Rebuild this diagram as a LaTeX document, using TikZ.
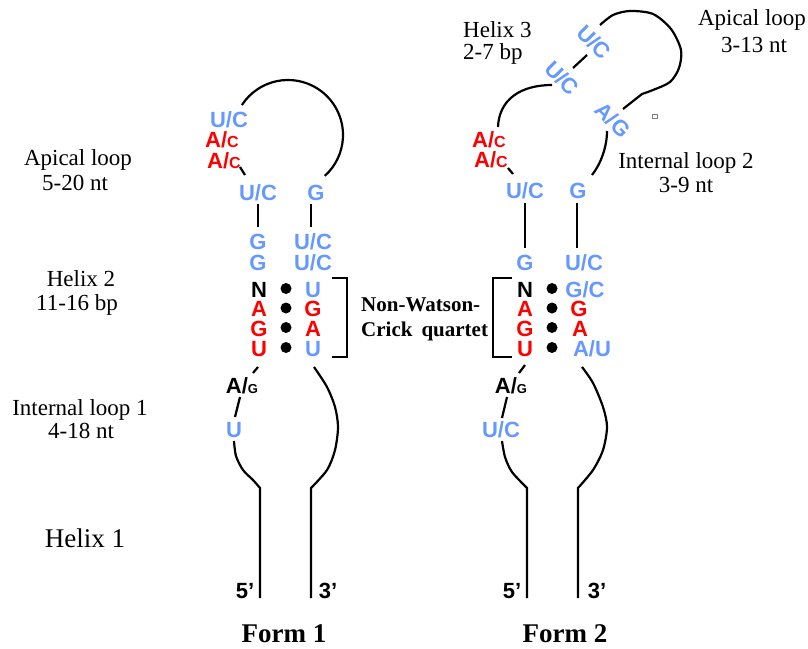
\documentclass[tikz,border=0pt]{standalone}
\usepackage{fontspec}
\setmainfont{Liberation Serif}
\setsansfont{Liberation Sans}
\definecolor{ntblue}{RGB}{102,153,255}
\definecolor{ntred}{RGB}{255,0,0}
% smaller second base of an ambiguous position
\newcommand\lowbase[1]{{\fontsize{16}{16}\selectfont #1}}
\newcommand\lowbaseg[1]{{\fontsize{13}{13}\selectfont #1}}
\begin{document}
\begin{tikzpicture}[x=1pt,y=-1pt,
  nt/.style={font=\sffamily\bfseries\fontsize{22}{22}\selectfont, inner sep=0pt, anchor=base},
  nb/.style={nt, text=ntblue},
  nr/.style={nt, text=ntred},
  nk/.style={nt, text=black},
  rot/.style={anchor=center, rotate=-45},
  lbl/.style={font=\fontsize{23}{25}\selectfont, inner sep=0pt, anchor=base},
  endlbl/.style={font=\sffamily\bfseries\fontsize{22}{22}\selectfont, inner sep=0pt, anchor=base},
  formlbl/.style={font=\bfseries\fontsize{27}{27}\selectfont, inner sep=0pt, anchor=base},
  qlbl/.style={font=\bfseries\fontsize{21}{21}\selectfont, inner sep=0pt, anchor=base west},
  bb/.style={line width=2.2pt},
  brk/.style={line width=2pt},
  pairdot/.style={fill=black, circle, inner sep=0pt, minimum size=11pt}]
\useasboundingbox (0,0) rectangle (808,648);

% ---------------- Form 1 ----------------
\node[nb] (f1a1) at (229,127) {U/C};
\node[nr] (f1a2) at (222,147) {A/\lowbase{C}};
\node[nr] (f1a3) at (224,168) {A/\lowbase{C}};
\node[nb] (f1b1) at (258,200) {U/C};
\node[nb] (f1b2) at (316,200) {G};
\node[nb] (f1c1) at (258,249) {G};
\node[nb] (f1c2) at (313,249) {U/C};
\node[nb] (f1d1) at (258,270) {G};
\node[nb] (f1d2) at (313,270) {U/C};
\node[nk] (f1l1) at (259,297) {N};
\node[nr] (f1l2) at (259,316.5) {A};
\node[nr] (f1l3) at (259,336) {G};
\node[nr] (f1l4) at (259,356) {U};
\node[nb] (f1r1) at (313,297) {U};
\node[nr] (f1r2) at (313,316.5) {G};
\node[nr] (f1r3) at (313,336) {A};
\node[nb] (f1r4) at (313,356) {U};
\node[pairdot] (f1p1) at (286,288.5) {};
\node[pairdot] (f1p2) at (286,308) {};
\node[pairdot] (f1p3) at (286,327.5) {};
\node[pairdot] (f1p4) at (286,347.5) {};
\node[nk] (f1e1) at (242,393) {A/\lowbaseg{G}};
\node[nb] (f1e2) at (234,437) {U};

% backbone, form 1
\draw[bb] (288,135) ++(213:55) arc[start angle=213, end angle=408, radius=55];
\draw[bb] (240,167) -- (245,175);
\draw[bb] (258,204) -- (258,227);
\draw[bb] (311,204) -- (311,227);
\draw[bb] (258,367) -- (253,373);
\draw[bb] (240,397) -- (235,417);
\draw[bb] plot[smooth] coordinates {(234,441) (236,456) (243,470) (253,480) (260,488)} -- (260,598);
\draw[bb] plot[smooth] coordinates {(314,367) (327,387) (335,407) (338,427) (335,450) (327,470) (311,488)} -- (311,598);
\draw[brk] (332,278) -- (347,278) -- (347,357) -- (332,357);

\node[endlbl] (f1five) at (245,598) {5’};
\node[endlbl] (f1three) at (328,598) {3’};
\node[formlbl] (form1) at (284,642) {Form 1};

% labels, form 1
\node[lbl] (l1a) at (78,165) {Apical loop};
\node[lbl] (l1b) at (75,190) {5-20 nt};
\node[lbl] (l2a) at (81,286) {Helix 2};
\node[lbl] (l2b) at (77,310) {11-16 bp};
\node[lbl] (l3a) at (80,415) {Internal loop 1};
\node[lbl] (l3b) at (81,438) {4-18 nt};
\node[lbl, font=\fontsize{27}{27}\selectfont] (l4) at (85,547) {Helix 1};

% quartet label between the brackets
\node[qlbl] (q1) at (361,311) {Non-Watson-};
\node[qlbl] (q2) at (361,336) {Crick\hspace{9pt}quartet};

% ---------------- Form 2 ----------------
\node[nr] (f2a1) at (489,147) {A/\lowbase{C}};
\node[nr] (f2a2) at (491,167) {A/\lowbase{C}};
\node[nb] (f2b1) at (525,198) {U/C};
\node[nb] (f2b2) at (578,198) {G};
\node[nb] (f2c1) at (525,270) {G};
\node[nb] (f2c2) at (584,270) {U/C};
\node[nk] (f2l1) at (525,297) {N};
\node[nr] (f2l2) at (525,316.5) {A};
\node[nr] (f2l3) at (525,336) {G};
\node[nr] (f2l4) at (525,356) {U};
\node[nb] (f2r1) at (585,297) {G/C};
\node[nr] (f2r2) at (579,316.5) {G};
\node[nr] (f2r3) at (580,336) {A};
\node[nb] (f2r4) at (592,356) {A/U};
\node[pairdot] (f2p1) at (552,288.5) {};
\node[pairdot] (f2p2) at (552,308) {};
\node[pairdot] (f2p3) at (552,327.5) {};
\node[pairdot] (f2p4) at (552,347.5) {};
\node[nk] (f2e1) at (511,393) {A/\lowbaseg{G}};
\node[nb] (f2e2) at (501,437) {U/C};
\node[nb, rot] (f2h1) at (562,78) {U/C};
\node[nb, rot] (f2h2) at (594,42) {U/C};
\node[nb, rot] (f2h3) at (613,120) {A/G};

% backbone, form 2
\draw[bb] (508,168) -- (513,174);
\draw[bb] (498,127) .. controls (499,100) and (520,85) .. (552,85);
\draw[bb] (573,68) -- (587,55);
\draw[bb] plot[smooth] coordinates {(600,25) (613,15) (630,11) (653,14) (671,29) (681,50) (679,68) (670,82) (653,90) (642,94)} -- (623,109);
\draw[bb] (607,131) .. controls (607,148) and (600,165) .. (592,175);
\draw[bb] (525,203) -- (525,248);
\draw[bb] (577,203) -- (577,248);
\draw[bb] (525,365) -- (519,373);
\draw[bb] (507,397) -- (502,418);
\draw[bb] plot[smooth] coordinates {(502,441) (505,457) (512,472) (527,488)} -- (527,598);
\draw[bb] plot[smooth] coordinates {(582,367) (593,383) (603,407) (607,427) (603,450) (593,470) (578,488)} -- (578,598);
\draw[brk] (512,278) -- (493,278) -- (493,357) -- (512,357);
\draw[gray, line width=0.6pt] (652,114) rectangle (657,118);

\node[endlbl] (f2five) at (512,598) {5’};
\node[endlbl] (f2three) at (597,598) {3’};
\node[formlbl] (form2) at (565,642) {Form 2};

% labels, form 2
\node[lbl, anchor=base west] (m1a) at (463,37) {Helix 3};
\node[lbl, anchor=base west] (m1b) at (463,59) {2-7 bp};
\node[lbl] (m2a) at (752,25) {Apical loop};
\node[lbl] (m2b) at (754,52) {3-13 nt};
\node[lbl] (m3a) at (686,168) {Internal loop 2};
\node[lbl] (m3b) at (686,192) {3-9 nt};
\end{tikzpicture}
\end{document}
